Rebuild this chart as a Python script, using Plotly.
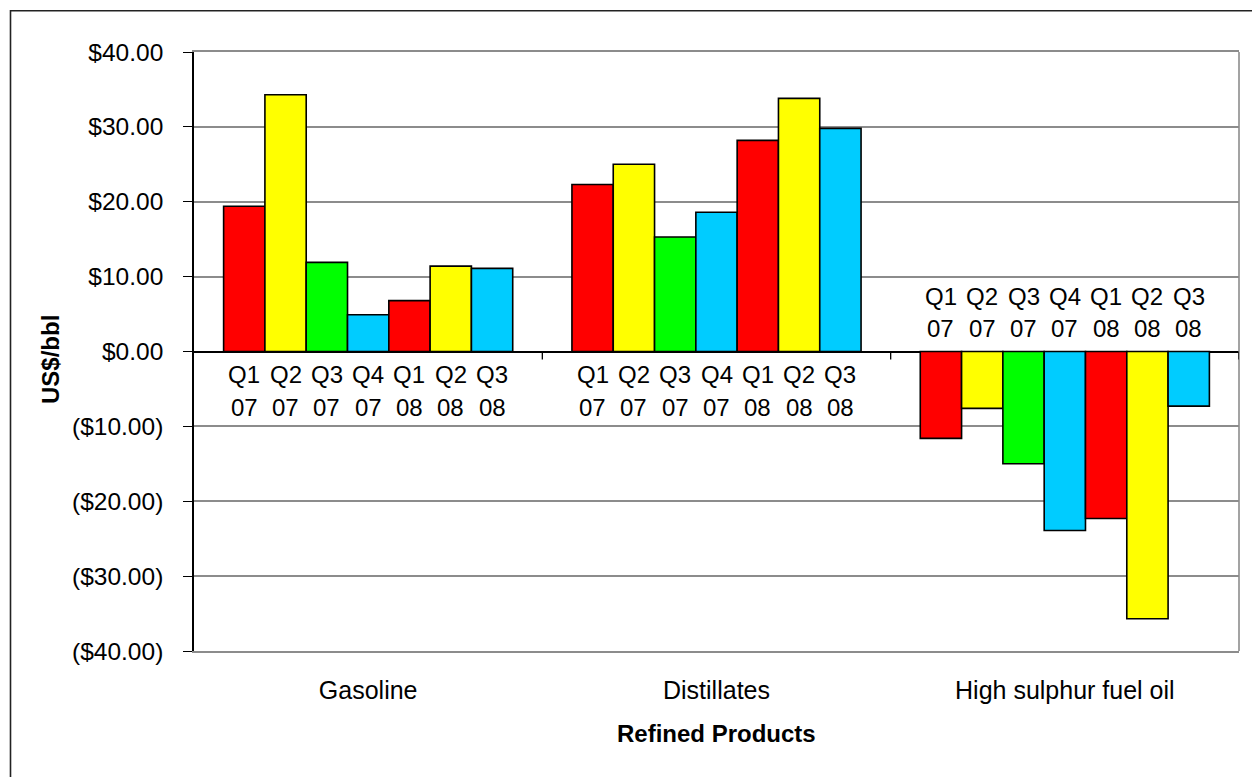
import plotly.graph_objects as go

# ---- data ----
categories = ["Gasoline", "Distillates", "High sulphur fuel oil"]
series_names = ["Q1 07", "Q2 07", "Q3 07", "Q4 07", "Q1 08", "Q2 08", "Q3 08"]
series_colors = ["#FF0000", "#FFFF00", "#00FF00", "#00CCFF", "#FF0000", "#FFFF00", "#00CCFF"]
# values per series across [Gasoline, Distillates, HSFO]
q1_07 = [19.4, 22.3, -11.6]
q2_07 = [34.3, 25.0, -7.6]
q3_07 = [11.9, 15.3, -15.0]
q4_07 = [4.9, 18.6, -23.9]
q1_08 = [6.8, 28.2, -22.3]
q2_08 = [11.4, 33.8, -35.7]
q3_08 = [11.1, 29.8, -7.3]
series_values = [q1_07, q2_07, q3_07, q4_07, q1_08, q2_08, q3_08]

y_tickvals = [-40, -30, -20, -10, 0, 10, 20, 30, 40]
y_ticktext = ["($40.00)", "($30.00)", "($20.00)", "($10.00)", "$0.00",
              "$10.00", "$20.00", "$30.00", "$40.00"]

FONT = "Arial, Liberation Sans, sans-serif"
FS_TICK = 24.5
FS_CAT = 25
FS_LABEL = 24
FS_TITLE = 24
W, H = 1252, 777
ML, MR, MT, MB = 194, 13, 52, 126
PW, PH = W - ML - MR, H - MT - MB
BARGAP = 0.17

fig = go.Figure()
for name, vals, col in zip(series_names, series_values, series_colors):
    fig.add_trace(go.Bar(
        x=categories, y=vals, name=name,
        marker=dict(color=col, line=dict(color="black", width=1.6)),
        hoverinfo="x+y+name",
    ))

# data labels (quarter / year) placed next to zero line like Excel
n = len(series_names)
bw = (1 - BARGAP) / n
annotations = []
for j, (name, vals) in enumerate(zip(series_names, series_values)):
    q, yr = name.split(" ")
    for i, v in enumerate(vals):
        xc = i - (1 - BARGAP) / 2 + (j + 0.5) * bw
        if v >= 0:
            shifts = (-23, -56)
        else:
            shifts = (55, 23)
        for txt, sh in zip((q, yr), shifts):
            annotations.append(dict(
                x=xc, y=0, xref="x", yref="y", text=txt, showarrow=False,
                yanchor="middle", xanchor="center", yshift=sh,
                font=dict(family=FONT, size=FS_LABEL, color="black"),
            ))

# axis titles
annotations.append(dict(
    x=(51 - ML) / PW, y=(MT + PH - 360) / PH, xref="paper", yref="paper",
    text="<b>US$/bbl</b>", textangle=-90, showarrow=False,
    xanchor="center", yanchor="middle",
    font=dict(family=FONT, size=FS_TITLE, color="black"),
))
annotations.append(dict(
    x=0.5, y=(MT + PH - 734) / PH, xref="paper", yref="paper",
    text="<b>Refined Products</b>", showarrow=False,
    xanchor="center", yanchor="middle",
    font=dict(family=FONT, size=FS_TITLE, color="black"),
))

shapes = []
# outer chart frame (extends past the right/bottom edge)
shapes.append(dict(
    type="rect", xref="paper", yref="paper",
    x0=(10.5 - ML) / PW, x1=(W + 40 - ML) / PW,
    y0=(MT + PH - (H + 40)) / PH, y1=(MT + PH - 10.7) / PH,
    line=dict(color="#222222", width=1.6), fillcolor="rgba(0,0,0,0)", layer="below",
))
# right plot border
shapes.append(dict(
    type="line", xref="paper", yref="paper", x0=1, x1=1, y0=0, y1=1,
    line=dict(color="#8c8c8c", width=1.6),
))
# category boundary tick marks on the zero line
for b in [0.5, 1.5, 2.5]:
    shapes.append(dict(
        type="line", xref="x", yref="y", ysizemode="pixel", yanchor=0,
        x0=b, x1=b, y0=0, y1=-8, line=dict(color="black", width=1.3),
    ))

fig.update_layout(
    width=W, height=H,
    margin=dict(l=ML, r=MR, t=MT, b=MB, autoexpand=False),
    paper_bgcolor="white", plot_bgcolor="white",
    barmode="group", bargap=BARGAP, bargroupgap=0,
    showlegend=False,
    font=dict(family=FONT, size=FS_TICK, color="black"),
    annotations=annotations, shapes=shapes,
)
fig.update_xaxes(
    type="category", range=[-0.5, 2.5],
    showline=True, mirror=True, linecolor="#8c8c8c", linewidth=1.6,
    showgrid=False, ticks="", ticklabelstandoff=16,
    tickfont=dict(family=FONT, size=FS_CAT, color="black"),
)
fig.update_yaxes(
    range=[-40, 40], tickvals=y_tickvals, ticktext=y_ticktext,
    showline=True, linecolor="black", linewidth=1.6,
    ticks="outside", ticklen=9, tickwidth=1.3, tickcolor="black",
    ticklabelstandoff=15,
    showgrid=True, gridcolor="#8c8c8c", gridwidth=1.5,
    zeroline=True, zerolinecolor="black", zerolinewidth=1.6,
    tickfont=dict(family=FONT, size=FS_TICK, color="black"),
)

fig.write_html("out.html")
